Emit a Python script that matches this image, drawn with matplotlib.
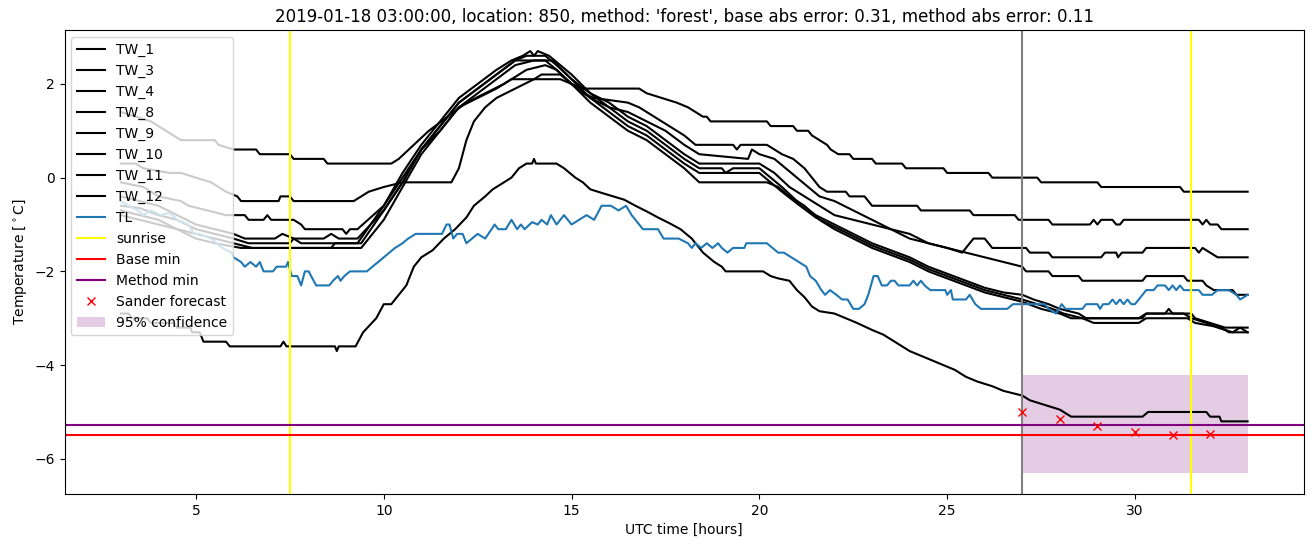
import numpy as np
import matplotlib
matplotlib.use("Agg")
import matplotlib.pyplot as plt

# (hour, temperature) knots
tw_1 = [(3.0, 1.4), (3.4, 1.3), (3.8, 1.2), (4.0, 1.1), (4.4, 0.9), (4.6, 0.8), (5.5, 0.8), (5.6, 0.7),
        (6.0, 0.6), (6.6, 0.6), (6.7, 0.5), (7.5, 0.5), (7.6, 0.4), (8.4, 0.4), (8.5, 0.3), (10.2, 0.3),
        (10.4, 0.4), (10.8, 0.7), (11.2, 1.0), (11.7, 1.3), (12.2, 1.6), (12.7, 1.8), (13.2, 2.0),
        (13.4, 2.1), (14.7, 2.1), (15.0, 2.0), (15.3, 1.9), (16.8, 1.9), (17.0, 1.8), (17.4, 1.7),
        (17.8, 1.6), (18.1, 1.5), (18.3, 1.4), (18.5, 1.3), (18.6, 1.3), (18.7, 1.2), (20.2, 1.2),
        (20.3, 1.1), (20.9, 1.1), (21.0, 1.0), (21.3, 1.0), (21.4, 0.9), (21.6, 0.8), (21.8, 0.7),
        (21.9, 0.6), (22.1, 0.5), (22.4, 0.5), (22.5, 0.4), (23.0, 0.4), (23.1, 0.3), (23.8, 0.3),
        (23.9, 0.2), (24.9, 0.2), (25.0, 0.1), (26.1, 0.1), (26.2, 0.0), (27.4, 0.0), (27.5, -0.1),
        (29.0, -0.1), (29.1, -0.2), (31.2, -0.2), (31.3, -0.3), (33.0, -0.3)]

tw_3 = [(3.0, 0.3), (3.4, 0.3), (3.6, 0.2), (4.3, 0.1), (4.6, 0.1), (5.0, 0.0), (5.4, -0.1),
        (5.6, -0.2), (5.8, -0.3), (6.1, -0.4), (6.2, -0.5), (7.2, -0.5), (7.25, -0.4), (7.5, -0.4),
        (7.6, -0.5), (9.2, -0.5), (9.6, -0.3), (10.0, -0.2), (10.5, -0.1), (11.8, -0.1), (12.0, 0.2),
        (12.2, 0.8), (12.4, 1.2), (12.7, 1.5), (13.0, 1.7), (13.5, 1.9), (14.0, 2.1), (14.2, 2.2),
        (14.7, 2.2), (15.0, 2.0), (15.3, 1.8), (15.6, 1.7), (16.5, 1.6), (16.8, 1.5), (17.2, 1.3),
        (17.6, 1.1), (18.0, 0.9), (18.3, 0.7), (19.3, 0.7), (19.4, 0.6), (19.5, 0.7), (20.2, 0.7),
        (20.4, 0.6), (20.6, 0.5), (20.9, 0.4), (21.2, 0.2), (21.4, 0.0), (21.6, -0.2), (21.8, -0.3),
        (22.3, -0.3), (22.4, -0.4), (22.8, -0.4), (23.0, -0.6), (24.2, -0.6), (24.3, -0.7),
        (25.6, -0.7), (25.7, -0.8), (26.8, -0.8), (26.9, -0.9), (27.7, -0.9), (27.8, -1.0),
        (28.8, -1.0), (28.9, -0.9), (29.0, -1.0), (29.1, -0.9), (29.4, -0.9), (29.5, -1.0),
        (29.6, -1.0), (29.7, -0.9), (31.7, -0.9), (31.8, -1.0), (31.9, -0.9), (32.0, -1.0),
        (32.2, -1.0), (32.3, -1.1), (33.0, -1.1)]

tw_4 = [(3.0, -0.1), (3.6, -0.2), (4.0, -0.4), (4.6, -0.5), (4.8, -0.6), (5.3, -0.7), (5.8, -0.8),
        (6.3, -0.8), (6.4, -0.9), (6.8, -0.9), (6.9, -0.8), (7.0, -0.9), (7.6, -0.9), (7.8, -1.0),
        (7.9, -1.1), (8.9, -1.1), (9.0, -1.2), (9.1, -1.1), (9.3, -1.1), (10.0, -0.6), (10.5, 0.0),
        (11.0, 0.6), (11.5, 1.0), (12.0, 1.5), (12.5, 1.7), (13.0, 1.9), (13.4, 2.1), (13.8, 2.3),
        (14.3, 2.4), (14.6, 2.3), (15.0, 2.0), (15.5, 1.7), (16.0, 1.5), (16.5, 1.4), (17.0, 1.2),
        (17.5, 1.0), (18.0, 0.7), (18.4, 0.5), (19.7, 0.4), (19.8, 0.6), (20.0, 0.5), (20.4, 0.4),
        (20.7, 0.2), (21.0, 0.0), (21.3, -0.2), (21.6, -0.4), (22.0, -0.5), (22.5, -0.7),
        (23.0, -0.9), (23.5, -1.1), (24.0, -1.2), (24.5, -1.4), (25.0, -1.5), (25.4, -1.6),
        (25.7, -1.3), (26.0, -1.3), (26.2, -1.5), (27.1, -1.5), (27.2, -1.6), (27.7, -1.6),
        (27.8, -1.7), (29.1, -1.7), (29.2, -1.6), (29.5, -1.6), (29.55, -1.7), (29.65, -1.6),
        (30.2, -1.6), (30.3, -1.5), (31.6, -1.5), (31.7, -1.6), (31.8, -1.5), (32.0, -1.6),
        (32.2, -1.7), (33.0, -1.7)]

tw_8 = [(3.0, -0.4), (3.5, -0.5), (4.0, -0.6), (4.5, -0.8), (5.0, -1.0), (5.5, -1.1), (6.0, -1.2),
        (6.3, -1.3), (7.1, -1.3), (7.3, -1.2), (7.6, -1.3), (8.4, -1.3), (8.6, -1.2), (8.8, -1.3),
        (9.3, -1.3), (10.0, -0.7), (10.5, -0.1), (11.0, 0.6), (11.5, 1.1), (12.0, 1.6), (12.5, 1.9),
        (13.0, 2.2), (13.5, 2.5), (14.5, 2.5), (15.0, 2.1), (15.5, 1.8), (16.0, 1.6), (16.5, 1.3),
        (17.0, 1.1), (17.5, 0.8), (18.0, 0.5), (18.4, 0.3), (20.0, 0.3), (20.4, 0.1), (20.8, -0.2),
        (21.2, -0.4), (21.6, -0.6), (22.0, -0.8), (22.5, -0.9), (23.0, -1.0), (23.5, -1.1),
        (24.0, -1.3), (24.5, -1.4), (25.0, -1.5), (25.5, -1.6), (26.0, -1.7), (26.5, -1.8),
        (27.0, -1.9), (27.1, -2.0), (27.7, -2.0), (27.8, -2.1), (28.5, -2.1), (28.6, -2.2),
        (30.2, -2.2), (30.3, -2.1), (31.3, -2.1), (31.4, -2.2), (31.8, -2.2), (31.9, -2.3),
        (32.1, -2.4), (32.6, -2.4), (32.7, -2.5), (33.0, -2.5)]

tw_9 = [(3.0, -0.6), (3.5, -0.65), (4.0, -0.8), (4.5, -0.9), (5.0, -1.1), (5.5, -1.2), (6.0, -1.3),
        (6.4, -1.4), (7.5, -1.4), (7.6, -1.3), (7.8, -1.4), (9.3, -1.4), (10.0, -0.6), (10.5, 0.1),
        (11.0, 0.7), (11.5, 1.2), (12.0, 1.7), (12.5, 2.0), (13.0, 2.3), (13.4, 2.5), (13.7, 2.6),
        (13.9, 2.7), (14.0, 2.6), (14.1, 2.7), (14.4, 2.6), (14.7, 2.4), (15.0, 2.2), (15.5, 1.8),
        (16.0, 1.5), (16.5, 1.2), (17.0, 1.0), (17.5, 0.7), (18.0, 0.4), (18.4, 0.2), (19.0, 0.2),
        (19.1, 0.1), (19.3, 0.2), (20.0, 0.2), (20.3, 0.0), (20.6, -0.2), (21.0, -0.5), (21.5, -0.8),
        (22.0, -1.0), (22.5, -1.2), (23.0, -1.4), (23.5, -1.55), (24.0, -1.7), (24.5, -1.9),
        (25.0, -2.05), (25.5, -2.2), (26.0, -2.35), (26.5, -2.45), (27.0, -2.5), (27.3, -2.6),
        (27.7, -2.7), (28.0, -2.8), (28.5, -2.9), (28.7, -3.0), (30.1, -3.0), (30.3, -2.9),
        (30.8, -2.9), (30.9, -2.8), (31.0, -2.9), (31.5, -2.9), (31.6, -3.0), (32.0, -3.1),
        (32.4, -3.2), (33.0, -3.2)]

tw_10 = [(3.0, -0.7), (3.5, -0.8), (4.0, -0.9), (4.5, -1.1), (5.0, -1.2), (5.5, -1.3), (6.0, -1.4),
         (6.5, -1.5), (8.6, -1.5), (8.7, -1.4), (9.4, -1.4), (10.0, -0.7), (10.5, -0.1), (11.0, 0.6),
         (11.5, 1.1), (12.0, 1.6), (12.5, 1.9), (13.0, 2.2), (13.5, 2.5), (13.8, 2.6), (14.3, 2.6),
         (14.6, 2.4), (15.0, 2.1), (15.5, 1.7), (16.0, 1.4), (16.5, 1.1), (17.0, 0.9), (17.5, 0.6),
         (18.0, 0.3), (18.4, 0.1), (20.0, 0.1), (20.3, -0.1), (20.6, -0.3), (21.0, -0.55),
         (21.5, -0.85), (22.0, -1.05), (22.5, -1.25), (23.0, -1.45), (23.5, -1.6), (24.0, -1.75),
         (24.5, -1.95), (25.0, -2.1), (25.5, -2.25), (26.0, -2.4), (26.5, -2.5), (27.0, -2.6),
         (27.4, -2.7), (27.8, -2.8), (28.1, -2.9), (28.6, -3.0), (28.9, -3.1), (30.1, -3.1),
         (30.3, -3.0), (31.4, -3.0), (31.6, -3.1), (32.3, -3.2), (32.5, -3.3), (33.0, -3.3)]

tw_11 = [(3.0, -0.8), (3.5, -0.9), (4.0, -1.0), (4.5, -1.1), (5.0, -1.3), (5.5, -1.4), (6.2, -1.5),
         (9.4, -1.5), (10.0, -0.9), (10.5, -0.2), (11.0, 0.5), (11.5, 1.0), (12.0, 1.5), (12.5, 1.8),
         (13.0, 2.1), (13.5, 2.4), (14.0, 2.5), (14.3, 2.5), (14.6, 2.3), (15.0, 2.0), (15.5, 1.6),
         (16.0, 1.3), (16.5, 1.0), (17.0, 0.8), (17.5, 0.5), (18.0, 0.2), (18.4, -0.1), (20.2, -0.1),
         (20.5, -0.2), (20.8, -0.4), (21.2, -0.6), (21.6, -0.9), (22.0, -1.1), (22.5, -1.3),
         (23.0, -1.5), (23.5, -1.65), (24.0, -1.8), (24.5, -2.0), (25.0, -2.15), (25.5, -2.3),
         (26.0, -2.45), (26.5, -2.55), (27.0, -2.65), (27.5, -2.8), (28.0, -2.9), (28.3, -3.0),
         (30.2, -3.0), (30.3, -2.9), (31.3, -2.9), (31.5, -3.0), (31.9, -3.1), (32.2, -3.2),
         (32.6, -3.3), (32.8, -3.2), (33.0, -3.3)]

tw_12 = [(3.0, -2.9), (3.2, -2.9), (3.3, -3.0), (3.7, -3.0), (3.8, -3.1), (4.4, -3.1), (4.5, -3.2),
         (4.85, -3.2), (4.9, -3.3), (5.1, -3.3), (5.15, -3.4), (5.2, -3.5), (5.8, -3.5), (5.9, -3.6),
         (7.25, -3.6), (7.33, -3.5), (7.41, -3.6), (8.7, -3.6), (8.75, -3.7), (8.8, -3.6),
         (9.25, -3.6), (9.45, -3.3), (9.8, -3.0), (10.0, -2.7), (10.2, -2.7), (10.4, -2.5),
         (10.6, -2.3), (10.8, -1.9), (11.0, -1.7), (11.3, -1.55), (11.6, -1.3), (11.9, -1.1),
         (12.2, -0.85), (12.4, -0.6), (12.7, -0.4), (12.9, -0.25), (13.2, -0.1), (13.4, 0.0),
         (13.6, 0.2), (13.8, 0.3), (13.95, 0.3), (14.0, 0.4), (14.05, 0.3), (14.6, 0.3), (14.8, 0.2),
         (15.1, 0.0), (15.3, -0.1), (15.5, -0.25), (15.9, -0.35), (16.4, -0.47), (16.7, -0.6),
         (17.0, -0.72), (17.3, -0.85), (17.6, -0.97), (17.9, -1.1), (18.2, -1.3), (18.5, -1.6),
         (18.8, -1.8), (19.0, -1.9), (19.1, -2.0), (20.1, -2.0), (20.3, -2.1), (20.5, -2.15),
         (20.8, -2.2), (21.0, -2.4), (21.2, -2.55), (21.4, -2.75), (21.6, -2.85), (22.0, -2.9),
         (22.3, -3.0), (22.6, -3.1), (23.0, -3.25), (23.3, -3.35), (23.6, -3.5), (24.0, -3.7),
         (24.3, -3.8), (24.6, -3.9), (24.9, -4.0), (25.2, -4.1), (25.5, -4.25), (25.8, -4.35),
         (26.2, -4.45), (26.5, -4.55), (27.0, -4.65), (27.2, -4.75), (27.6, -4.85), (28.0, -4.95),
         (28.3, -5.1), (30.2, -5.1), (30.35, -5.0), (31.9, -5.0), (32.0, -5.1), (32.25, -5.1),
         (32.3, -5.2), (33.0, -5.2)]

tl = [(3.0, -0.5), (3.2, -0.6), (3.45, -0.7), (3.6, -0.8), (3.8, -0.7), (4.05, -0.8), (4.3, -0.75),
      (4.5, -0.9), (4.8, -1.0), (4.95, -1.2), (5.1, -1.2), (5.4, -1.3), (5.7, -1.5), (5.95, -1.6),
      (6.0, -1.7), (6.2, -1.8), (6.3, -1.9), (6.45, -1.8), (6.6, -1.9), (6.7, -1.8), (6.8, -2.0),
      (7.05, -2.0), (7.15, -1.9), (7.4, -1.9), (7.45, -1.8), (7.55, -2.1), (7.7, -2.1), (7.8, -2.3),
      (7.9, -2.0), (8.0, -2.0), (8.2, -2.3), (8.55, -2.3), (8.65, -2.2), (8.78, -2.1), (8.85, -2.2),
      (8.95, -2.1), (9.1, -2.0), (9.55, -2.0), (9.7, -1.9), (9.85, -1.8), (10.0, -1.7),
      (10.15, -1.6), (10.3, -1.5), (10.5, -1.4), (10.65, -1.3), (10.85, -1.2), (11.55, -1.2),
      (11.67, -1.0), (11.75, -1.0), (11.85, -1.3), (11.95, -1.2), (12.1, -1.2), (12.2, -1.4),
      (12.35, -1.3), (12.5, -1.2), (12.7, -1.3), (12.87, -1.1), (12.95, -1.0), (13.05, -1.1),
      (13.25, -1.1), (13.4, -0.9), (13.55, -1.1), (13.65, -1.0), (13.75, -1.1), (13.95, -0.95),
      (14.1, -1.0), (14.2, -0.9), (14.35, -1.0), (14.45, -0.8), (14.6, -1.0), (14.8, -0.8),
      (15.0, -1.0), (15.2, -0.9), (15.4, -0.8), (15.6, -0.9), (15.8, -0.6), (16.05, -0.6),
      (16.25, -0.7), (16.45, -0.6), (16.6, -0.8), (16.8, -1.0), (16.9, -1.1), (17.3, -1.1),
      (17.45, -1.3), (17.85, -1.3), (18.1, -1.4), (18.2, -1.5), (18.3, -1.4), (18.45, -1.5),
      (18.6, -1.4), (18.75, -1.5), (18.9, -1.4), (19.0, -1.5), (19.15, -1.6), (19.3, -1.5),
      (19.6, -1.5), (19.65, -1.4), (20.2, -1.4), (20.35, -1.5), (20.5, -1.6), (20.65, -1.6),
      (20.85, -1.7), (21.05, -1.8), (21.25, -1.9), (21.35, -2.1), (21.5, -2.2), (21.65, -2.4),
      (21.75, -2.5), (21.88, -2.4), (22.05, -2.5), (22.2, -2.6), (22.35, -2.6), (22.5, -2.8),
      (22.65, -2.8), (22.8, -2.7), (22.9, -2.5), (23.04, -2.1), (23.15, -2.1), (23.26, -2.3),
      (23.4, -2.3), (23.5, -2.2), (23.6, -2.2), (23.7, -2.3), (24.0, -2.3), (24.1, -2.2),
      (24.2, -2.3), (24.3, -2.2), (24.4, -2.3), (24.55, -2.4), (24.95, -2.4), (25.0, -2.5),
      (25.1, -2.4), (25.15, -2.6), (25.5, -2.6), (25.6, -2.5), (25.75, -2.7), (25.9, -2.8),
      (26.6, -2.8), (26.75, -2.7), (27.6, -2.7), (27.7, -2.8), (27.9, -2.9), (28.05, -2.7),
      (28.15, -2.8), (28.6, -2.8), (28.7, -2.7), (29.0, -2.7), (29.07, -2.8), (29.15, -2.7),
      (29.3, -2.7), (29.4, -2.6), (29.5, -2.7), (29.6, -2.6), (29.7, -2.7), (29.8, -2.6),
      (29.9, -2.7), (30.0, -2.7), (30.2, -2.5), (30.3, -2.4), (30.5, -2.4), (30.6, -2.3),
      (30.8, -2.3), (30.9, -2.4), (31.0, -2.3), (31.1, -2.4), (31.2, -2.3), (31.3, -2.4),
      (31.7, -2.4), (31.8, -2.5), (32.05, -2.5), (32.2, -2.4), (32.5, -2.4), (32.7, -2.5),
      (32.8, -2.6), (33.0, -2.5)]

tw_labels = ["TW_1", "TW_3", "TW_4", "TW_8", "TW_9", "TW_10", "TW_11", "TW_12"]
tw_series = [tw_1, tw_3, tw_4, tw_8, tw_9, tw_10, tw_11, tw_12]

sunrise_hours = [7.5, 31.5]
forecast_start = 27.0
base_min = -5.5
method_min = -5.28

sander_hours = [27, 28, 29, 30, 31, 32]
sander_temp = [-5.0, -5.14, -5.3, -5.42, -5.5, -5.46]

conf_hours = [27, 33]
conf_low = -6.3
conf_high = -4.22

title = ("2019-01-18 03:00:00, location: 850, method: 'forest', "
         "base abs error: 0.31, method abs error: 0.11")


def plot():
    fig, ax = plt.subplots(figsize=(13.13, 5.47), dpi=100)
    fig.subplots_adjust(left=64.5 / 1313, right=1304 / 1313, top=1 - 30 / 547, bottom=1 - 494 / 547)

    for label, series in zip(tw_labels, tw_series):
        t, v = zip(*series)
        ax.plot(t, v, color="black", label=label)

    t, v = zip(*tl)
    ax.plot(t, v, color="tab:blue", label="TL")

    ax.axvline(sunrise_hours[0], color="yellow", label="sunrise")
    ax.axvline(sunrise_hours[1], color="yellow")
    ax.axvline(forecast_start, color="grey")

    ax.axhline(base_min, color="red", label="Base min")
    ax.axhline(method_min, color="purple", label="Method min")

    ax.plot(sander_hours, sander_temp, "x", color="red", label="Sander forecast")
    ax.fill_between(conf_hours, conf_low, conf_high, color="purple", alpha=0.2,
                    linewidth=0, label="95% confidence")

    ax.set_xlabel("UTC time [hours]")
    ax.set_ylabel(r"Temperature [$^\circ$C]")
    ax.set_title(title)
    ax.legend(loc="upper left")

    fig.savefig("out.png", dpi=100)


if __name__ == "__main__":
    plot()
